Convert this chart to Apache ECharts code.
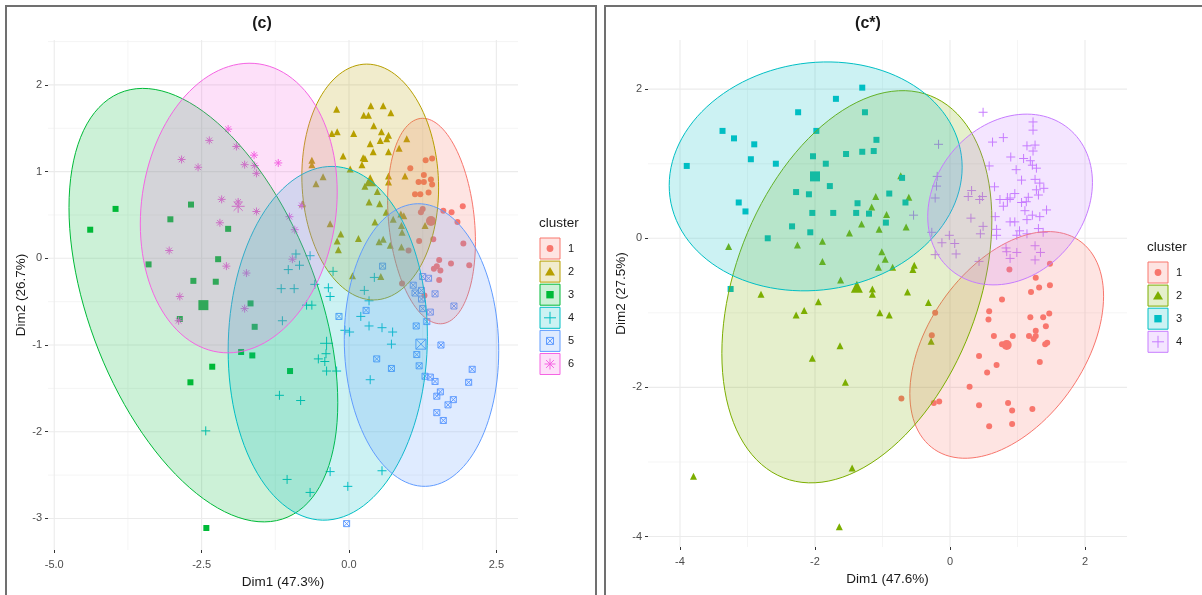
<!DOCTYPE html>
<html>
<head>
<meta charset="utf-8">
<title>(c) / (c*) cluster plots</title>
<script src="https://cdn.jsdelivr.net/npm/echarts@6/dist/echarts.min.js"></script>
<style>
html, body { margin: 0; padding: 0; background: #fff; }
#chart { width: 1202px; height: 595px; }
</style>
</head>
<body>
<div id="chart"></div>
<script>
var FONT = '"Liberation Sans", Arial, Helvetica, sans-serif';

// ---- panel (c) : 6 clusters ----
var cLabels = ['1', '2', '3', '4', '5', '6'];
var cColors = ['#F8766D', '#B79F00', '#00BA38', '#00BFC4', '#619CFF', '#F564E3'];
var cShapes = ['circle', 'triangle', 'square', 'plus', 'boxcross', 'asterisk'];

var cPts1 = [[1.30,1.13],[1.41,1.15],[1.04,1.04],[1.27,0.96],[1.39,0.91],[1.18,0.88],[1.27,0.88],[1.41,0.85],
  [1.12,0.74],[1.21,0.74],[1.35,0.76],[1.25,0.57],[1.22,0.53],[1.60,0.55],[1.74,0.53],[1.93,0.60],[1.84,0.42],
  [1.19,0.20],[1.43,0.22],[1.94,0.17],[1.01,0.09],[1.53,-0.02],[1.44,-0.12],[1.49,-0.09],[1.55,-0.14],
  [1.73,-0.06],[2.04,-0.08],[1.53,-0.25],[0.90,-0.29],[1.28,-0.43]];
var cPts2 = [[-0.21,1.72],[0.37,1.76],[0.58,1.76],[0.71,1.68],[0.25,1.65],[0.33,1.65],[0.42,1.53],[-0.29,1.44],
  [-0.20,1.46],[0.08,1.44],[0.55,1.46],[0.67,1.42],[0.64,1.38],[0.53,1.36],[0.36,1.32],[0.41,1.23],[0.67,1.23],
  [-0.10,1.18],[0.24,1.16],[0.27,1.15],[0.22,1.08],[-0.63,1.13],[-0.63,1.08],[0.02,1.03],[-0.44,0.94],
  [-0.56,0.86],[0.67,0.95],[0.67,0.88],[0.95,0.95],[0.98,1.38],[0.85,1.27],[0.27,0.83],[0.48,0.77],[0.34,0.65],
  [0.52,0.63],[-0.79,0.63],[-0.32,0.40],[-0.14,0.28],[-0.20,0.20],[-0.18,0.10],[0.16,0.23],[0.51,0.19],
  [0.58,0.22],[0.70,0.15],[0.44,0.42],[0.63,0.53],[0.75,0.45],[0.88,0.51],[0.93,0.49],[0.89,0.38],[0.90,0.30],
  [0.89,0.13],[1.29,0.38],[0.06,-0.20],[0.54,-0.21]];
var cPts3 = [[-4.39,0.33],[-3.96,0.57],[-2.68,0.62],[-3.03,0.45],[-2.05,0.34],[-3.40,-0.07],[-2.22,-0.01],
  [-2.64,-0.26],[-2.26,-0.27],[-1.67,-0.52],[-1.60,-0.79],[-1.83,-1.08],[-1.64,-1.12],[-2.32,-1.25],
  [-1.00,-1.30],[-2.87,-0.70],[-2.69,-1.43],[-2.42,-3.11]];
var cPts4 = [[-0.90,0.05],[-0.66,0.03],[-0.84,-0.08],[-1.03,-0.13],[-1.15,-0.35],[-0.93,-0.35],[-0.27,-0.15],
  [-0.58,-0.30],[-0.35,-0.34],[-0.32,-0.44],[-0.72,-0.54],[-0.63,-0.54],[-1.13,-0.72],[-0.39,-1.10],
  [-0.52,-1.16],[-0.41,-1.19],[-0.38,-1.30],[-0.21,-1.30],[-1.18,-1.58],[-0.82,-1.64],[0.26,-0.37],
  [0.34,-0.49],[0.20,-0.67],[0.34,-0.78],[0.56,-0.80],[0.74,-0.85],[0.72,-0.99],[-0.07,-0.83],[0.01,-0.85],
  [0.43,-0.22],[0.36,-1.40],[-0.32,-2.46],[0.56,-2.45],[-0.02,-2.63],[-1.05,-2.55],[-0.66,-2.70],[-2.43,-1.99]];
var cPts5 = [[0.57,-0.09],[0.29,-0.60],[-0.17,-0.67],[0.47,-1.16],[0.72,-1.27],[1.14,-0.78],[1.15,-1.11],
  [1.19,-1.24],[1.29,-1.36],[1.38,-1.37],[1.56,-1.00],[1.46,-1.42],[1.55,-1.54],[1.49,-1.59],[1.68,-1.69],
  [1.49,-1.78],[1.60,-1.87],[1.09,-0.31],[1.25,-0.21],[1.35,-0.23],[1.23,-0.37],[1.12,-0.40],[1.23,-0.47],
  [1.46,-0.41],[1.25,-0.58],[1.38,-0.62],[1.32,-0.73],[1.77,-1.63],[2.03,-1.43],[2.09,-1.28],[1.78,-0.55],
  [-0.04,-3.06]];
var cPts6 = [[-2.05,1.49],[-2.37,1.36],[-1.91,1.29],[-2.84,1.14],[-2.56,1.05],[-1.61,1.19],[-1.77,1.08],
  [-1.60,1.07],[-1.57,0.98],[-1.20,1.10],[-2.16,0.68],[-1.88,0.65],[-1.57,0.54],[-2.19,0.41],[-3.05,0.09],
  [-2.08,-0.09],[-1.74,-0.17],[-1.01,0.48],[-0.92,0.33],[-0.80,0.61],[-0.96,-0.01],[-2.87,-0.44],
  [-2.89,-0.72],[-1.77,-0.58]];
var cCentres = [[1.39,0.43],[0.36,0.90],[-2.47,-0.54],[-0.38,-0.98],[1.22,-0.99],[-1.88,0.60]];

// ellipse: centre, half extents along x / y, correlation
var cEllCx = [1.40, 0.36, -2.47, -0.36, 1.23, -1.87];
var cEllCy = [0.43, 0.88, -0.54, -0.98, -1.00, 0.58];
var cEllSx = [0.745, 1.16, 2.28, 1.69, 1.31, 1.67];
var cEllSy = [1.185, 1.36, 2.50, 2.04, 1.63, 1.67];
var cEllR = [-0.20, -0.05, -0.45, 0.04, -0.04, 0.11];

var cXTicks = [-5, -2.5, 0, 2.5];
var cXMinor = [-3.75, -1.25, 1.25];
var cYTicks = [-3, -2, -1, 0, 1, 2];
var cYMinor = [-2.5, -1.5, -0.5, 0.5, 1.5, 2.5];

// ---- panel (c*) : 4 clusters ----
var sLabels = ['1', '2', '3', '4'];
var sColors = ['#F8766D', '#7CAE00', '#00BFC4', '#C77CFF'];
var sShapes = ['circle', 'triangle', 'square', 'plus'];

var sPts1 = [[0.88,-0.42],[1.48,-0.34],[1.27,-0.53],[1.20,-0.72],[1.32,-0.66],[1.48,-0.63],[0.77,-0.82],
  [0.58,-0.98],[0.57,-1.09],[1.19,-1.06],[1.38,-1.06],[1.47,-1.01],[1.42,-1.18],[1.27,-1.24],[1.17,-1.31],
  [1.27,-1.31],[1.24,-1.35],[0.65,-1.31],[0.93,-1.31],[0.77,-1.42],[1.41,-1.42],[1.44,-1.40],[0.43,-1.58],
  [0.69,-1.70],[1.33,-1.66],[0.55,-1.80],[0.29,-1.99],[-0.24,-2.21],[-0.16,-2.19],[-0.72,-2.15],[0.43,-2.24],
  [0.86,-2.21],[0.92,-2.31],[1.22,-2.29],[0.58,-2.52],[0.92,-2.49],[-0.22,-1.00],[-0.27,-1.30]];
var sPts2 = [[-1.10,0.56],[-0.61,0.55],[-1.16,0.42],[-0.94,0.32],[-1.31,0.19],[-1.05,0.12],[-0.65,0.15],
  [-1.49,0.07],[-1.89,-0.04],[-2.26,-0.09],[-3.28,-0.11],[-1.01,-0.18],[-0.96,-0.28],[-1.89,-0.31],
  [-1.06,-0.39],[-0.85,-0.39],[-0.53,-0.36],[-0.55,-0.42],[-1.62,-0.56],[-1.15,-0.68],[-1.15,-0.75],
  [-0.63,-0.72],[-0.32,-0.86],[-2.80,-0.75],[-1.95,-0.85],[-2.16,-0.97],[-2.28,-1.03],[-1.04,-1.00],
  [-0.90,-1.03],[-1.63,-1.44],[-2.04,-1.61],[-0.28,-1.38],[-1.55,-1.93],[-1.45,-3.08],[-3.80,-3.19],
  [-1.64,-3.87],[-0.73,0.84]];
var sPts3 = [[-1.30,2.02],[-1.69,1.87],[-1.26,1.69],[-2.25,1.69],[-1.98,1.44],[-3.37,1.44],[-3.20,1.34],
  [-2.90,1.26],[-1.09,1.32],[-1.13,1.17],[-1.30,1.16],[-1.54,1.13],[-2.03,1.10],[-2.95,1.06],[-2.58,1.00],
  [-1.84,1.00],[-3.90,0.97],[-0.71,0.81],[-1.78,0.70],[-2.28,0.62],[-2.09,0.59],[-0.90,0.60],[-3.13,0.48],
  [-1.37,0.47],[-0.66,0.48],[-3.03,0.36],[-2.04,0.34],[-1.73,0.34],[-1.39,0.34],[-1.20,0.33],[-0.95,0.21],
  [-2.34,0.16],[-2.07,0.08],[-2.70,0.00],[-3.25,-0.68]];
var sPts4 = [[0.49,1.69],[1.23,1.56],[1.23,1.45],[0.79,1.35],[0.63,1.29],[-0.17,1.26],[1.14,1.24],[1.26,1.25],
  [1.23,1.17],[0.90,1.09],[1.09,1.07],[1.19,1.04],[1.22,0.98],[0.58,0.97],[1.28,0.94],[0.98,0.92],[-0.19,0.83],
  [1.06,0.78],[1.26,0.79],[0.66,0.69],[1.33,0.74],[1.39,0.67],[1.28,0.65],[0.32,0.64],[0.27,0.56],[0.48,0.56],
  [0.44,0.52],[-0.22,0.54],[0.96,0.60],[0.74,0.52],[0.89,0.54],[1.16,0.55],[1.31,0.58],[1.06,0.48],[1.13,0.49],
  [0.79,0.43],[1.43,0.38],[1.11,0.37],[1.22,0.31],[1.33,0.29],[0.67,0.29],[-0.54,0.31],[0.31,0.27],[0.89,0.22],
  [0.96,0.22],[1.14,0.25],[0.49,0.16],[0.69,0.12],[0.69,0.04],[0.45,0.06],[1.31,0.13],[1.38,0.08],[1.03,0.10],
  [1.14,0.06],[0.99,0.04],[-0.27,0.08],[-0.01,0.04],[-0.12,-0.06],[0.07,-0.07],[-0.22,-0.22],[0.09,-0.21],
  [0.83,-0.13],[0.84,-0.18],[0.99,-0.19],[1.26,-0.10],[1.34,-0.19],[1.26,-0.29],[0.89,-0.27],[0.43,-0.31],
  [-0.20,0.70]];
var sCentres = [[0.84,-1.43],[-1.38,-0.65],[-2.00,0.83],[0.85,0.52]];

var sEllCx = [0.84, -1.38, -1.99, 0.89];
var sEllCy = [-1.43, -0.65, 0.83, 0.52];
var sEllSx = [1.435, 2.00, 2.17, 1.22];
var sEllSy = [1.52, 2.63, 1.535, 1.145];
var sEllR = [0.43, 0.34, 0.08, 0.20];

var sXTicks = [-4, -2, 0, 2];
var sXMinor = [-3, -1, 1];
var sYTicks = [-4, -2, 0, 2];
var sYMinor = [-3, -1, 1];

// ---- helpers ----
var SHAPES = {
  circle:   { symbol: 'circle', size: 6, big: 10, line: false },
  triangle: { symbol: 'triangle', size: 7, big: 12, line: false },
  square:   { symbol: 'rect', size: 6, big: 10, line: false },
  plus:     { symbol: 'path://M5,0V10M0,5H10', size: 9, big: 13, line: true },
  boxcross: { symbol: 'path://M0,0H10V10H0ZM0,0L10,10M10,0L0,10', size: 6, big: 10, line: true },
  asterisk: { symbol: 'path://M5,0V10M0,5H10M1.5,1.5L8.5,8.5M8.5,1.5L1.5,8.5', size: 8, big: 13, line: true }
};

function fade(hex, a) {
  var n = parseInt(hex.slice(1), 16);
  return 'rgba(' + (n >> 16) + ',' + ((n >> 8) & 255) + ',' + (n & 255) + ',' + a + ')';
}

function pointSeries(ax, pts, centre, col, shape) {
  var s = SHAPES[shape];
  var data = pts.slice();
  data.push({ value: centre, symbolSize: s.big });
  return {
    type: 'scatter', xAxisIndex: ax, yAxisIndex: ax, z: 2, silent: true,
    symbol: s.symbol, symbolSize: s.size, data: data,
    itemStyle: s.line ? { color: 'rgba(0,0,0,0)', borderColor: col, borderWidth: 1, opacity: 1 }
                      : { color: col, opacity: 1 }
  };
}

function ellipseSeries(ax, cx, cy, sx, sy, r, colors) {
  var data = cx.map(function (v, i) { return [v, cy[i], i]; });
  return {
    type: 'custom', xAxisIndex: ax, yAxisIndex: ax, z: 3, silent: true,
    encode: { x: 0, y: 1 }, data: data,
    renderItem: function (params, api) {
      var i = api.value(2);
      var k = Math.sqrt(1 - r[i] * r[i]);
      var pts = [];
      for (var j = 0; j < 120; j++) {
        var t = j / 120 * Math.PI * 2;
        pts.push(api.coord([cx[i] + sx[i] * Math.cos(t),
          cy[i] + sy[i] * (r[i] * Math.cos(t) + k * Math.sin(t))]));
      }
      return { type: 'polygon', shape: { points: pts },
        style: { fill: fade(colors[i], 0.2), stroke: colors[i], lineWidth: 1 } };
    }
  };
}

// grid lines: [value, 0 = vertical / 1 = horizontal, 1 = major]
function gridSeries(ax, xMaj, xMin, yMaj, yMin) {
  var data = [];
  xMin.forEach(function (v) { data.push([v, 0, 0]); });
  yMin.forEach(function (v) { data.push([v, 1, 0]); });
  xMaj.forEach(function (v) { data.push([v, 0, 1]); });
  yMaj.forEach(function (v) { data.push([v, 1, 1]); });
  return {
    type: 'custom', xAxisIndex: ax, yAxisIndex: ax, z: 0, silent: true, data: data,
    renderItem: function (params, api) {
      var cs = params.coordSys;
      var v = api.value(0), major = api.value(2) === 1, shape;
      if (api.value(1) === 0) {
        var x = api.coord([v, 0])[0];
        shape = { x1: x, y1: cs.y, x2: x, y2: cs.y + cs.height };
      } else {
        var y = api.coord([0, v])[1];
        shape = { x1: cs.x, y1: y, x2: cs.x + cs.width, y2: y };
      }
      return { type: 'line', shape: shape,
        style: { stroke: major ? '#ebebeb' : '#f2f2f2', lineWidth: major ? 1.1 : 0.8 } };
    }
  };
}

function axisCfg(grid, min, max, ticks, name, gap, fmt, margin) {
  return {
    type: 'value', gridIndex: grid, min: min, max: max,
    name: name, nameLocation: 'middle', nameGap: gap,
    nameTextStyle: { fontSize: 13.5, color: '#1a1a1a', fontFamily: FONT },
    axisLine: { show: false, onZero: false },
    axisTick: { show: true, length: 3, customValues: ticks, lineStyle: { color: '#333', width: 1 } },
    axisLabel: { customValues: ticks, formatter: fmt, fontSize: 11, color: '#4d4d4d', fontFamily: FONT, margin: margin },
    splitLine: { show: false }
  };
}

function keyMark(shape, x, y, col) {
  var ln = function (x1, y1, x2, y2) {
    return { type: 'line', shape: { x1: x1, y1: y1, x2: x2, y2: y2 }, style: { stroke: col, lineWidth: 1 } };
  };
  if (shape === 'circle') return [{ type: 'circle', shape: { cx: x, cy: y, r: 3.4 }, style: { fill: col } }];
  if (shape === 'triangle') return [{ type: 'polygon', shape: { points: [[x, y - 4.6], [x + 5, y + 4], [x - 5, y + 4]] }, style: { fill: col } }];
  if (shape === 'square') return [{ type: 'rect', shape: { x: x - 3.7, y: y - 3.7, width: 7.4, height: 7.4 }, style: { fill: col } }];
  if (shape === 'plus') return [ln(x - 6, y, x + 6, y), ln(x, y - 6, x, y + 6)];
  if (shape === 'boxcross') return [
    { type: 'rect', shape: { x: x - 3.5, y: y - 3.5, width: 7, height: 7 }, style: { fill: 'none', stroke: col, lineWidth: 1 } },
    ln(x - 3.5, y - 3.5, x + 3.5, y + 3.5), ln(x + 3.5, y - 3.5, x - 3.5, y + 3.5)];
  return [ln(x - 5.5, y, x + 5.5, y), ln(x, y - 5.5, x, y + 5.5),
    ln(x - 3.9, y - 3.9, x + 3.9, y + 3.9), ln(x + 3.9, y - 3.9, x - 3.9, y + 3.9)];
}

function legend(x, titleY, firstY, colors, shapes, labels) {
  var g = [{ type: 'text', x: x - 1, y: titleY,
    style: { text: 'cluster', font: '13.5px ' + FONT, fill: '#1a1a1a', align: 'left', verticalAlign: 'middle' } }];
  labels.forEach(function (lab, i) {
    var cy = firstY + i * 23.1;
    g.push({ type: 'rect', shape: { x: x, y: cy - 10.5, width: 20, height: 21 },
      style: { fill: fade(colors[i], 0.2), stroke: colors[i], lineWidth: 1 } });
    g = g.concat(keyMark(shapes[i], x + 10, cy, colors[i]));
    g.push({ type: 'text', x: x + 28, y: cy,
      style: { text: lab, font: '11px ' + FONT, fill: '#1a1a1a', align: 'left', verticalAlign: 'middle' } });
  });
  return g;
}

function title(text, x) {
  return { type: 'text', x: x, y: 24,
    style: { text: text, font: 'bold 16px ' + FONT, fill: '#1a1a1a', align: 'center', verticalAlign: 'middle' } };
}

var series = [gridSeries(0, cXTicks, cXMinor, cYTicks, cYMinor), gridSeries(1, sXTicks, sXMinor, sYTicks, sYMinor)];
[cPts1, cPts2, cPts3, cPts4, cPts5, cPts6].forEach(function (p, i) {
  series.push(pointSeries(0, p, cCentres[i], cColors[i], cShapes[i]));
});
[sPts1, sPts2, sPts3, sPts4].forEach(function (p, i) {
  series.push(pointSeries(1, p, sCentres[i], sColors[i], sShapes[i]));
});
series.push(ellipseSeries(0, cEllCx, cEllCy, cEllSx, cEllSy, cEllR, cColors));
series.push(ellipseSeries(1, sEllCx, sEllCy, sEllSx, sEllSy, sEllR, sColors));

var graphics = [
  { type: 'rect', shape: { x: 6, y: 6, width: 590, height: 600 }, style: { fill: 'none', stroke: '#707070', lineWidth: 2 } },
  { type: 'rect', shape: { x: 605, y: 6, width: 620, height: 600 }, style: { fill: 'none', stroke: '#707070', lineWidth: 2 } },
  title('(c)', 262), title('(c*)', 868)
].concat(legend(540, 223, 248.5, cColors, cShapes, cLabels))
 .concat(legend(1148, 247, 272.5, sColors, sShapes, sLabels));

var chart = echarts.init(document.getElementById('chart'));
chart.setOption({
  animation: false,
  backgroundColor: '#fff',
  grid: [
    { left: 48, top: 40, width: 470, height: 510 },
    { left: 648, top: 40, width: 479, height: 507 }
  ],
  xAxis: [
    axisCfg(0, -5.106, 2.867, cXTicks, 'Dim1 (47.3%)', 22, function (v) { return v.toFixed(1); }, 9),
    axisCfg(1, -4.474, 2.622, sXTicks, 'Dim1 (47.6%)', 22, function (v) { return String(v); }, 9)
  ],
  yAxis: [
    axisCfg(0, -3.364, 2.518, cYTicks, 'Dim2 (26.7%)', 19, function (v) { return String(v); }, 6),
    axisCfg(1, -4.140, 2.659, sYTicks, 'Dim2 (27.5%)', 20, function (v) { return String(v); }, 6)
  ],
  graphic: graphics,
  series: series
});
</script>
</body>
</html>
